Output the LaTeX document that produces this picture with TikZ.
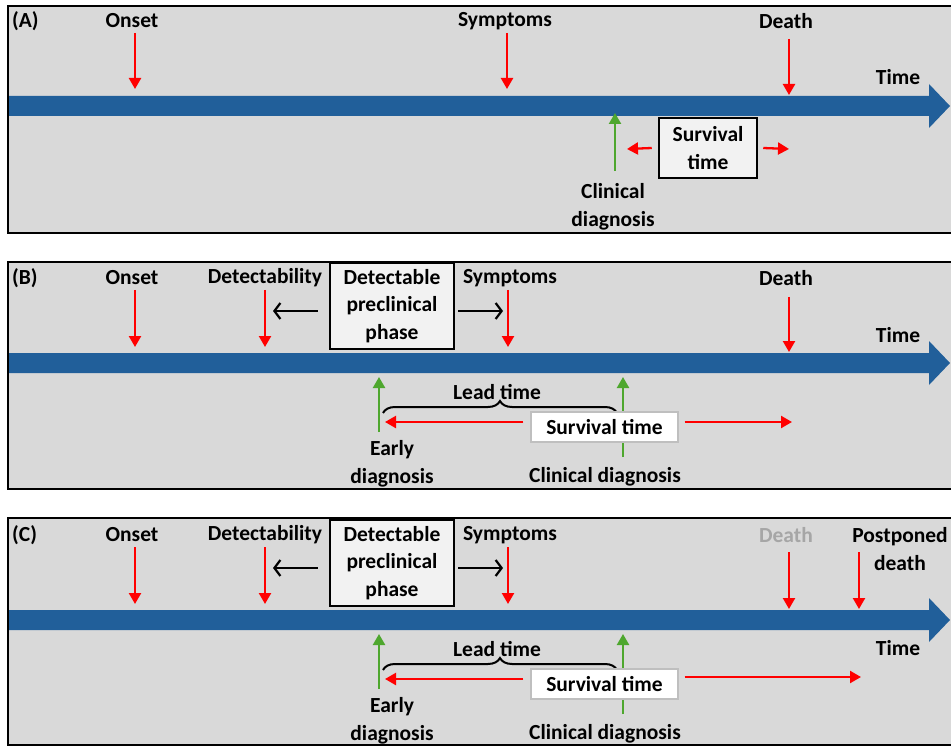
\documentclass[tikz,border=0pt]{standalone}
\usepackage{fontspec}
\setmainfont{Carlito}
\usetikzlibrary{arrows.meta,decorations.pathreplacing}
\definecolor{panelgray}{HTML}{D9D9D9}
\definecolor{barblue}{HTML}{215F9A}
\definecolor{arrred}{HTML}{FF0000}
\definecolor{arrgreen}{HTML}{4EA72E}
\definecolor{boxfill}{HTML}{F2F2F2}
\definecolor{fadegray}{HTML}{A6A6A6}
\definecolor{boxline}{HTML}{BFBFBF}
\tikzset{
  lbl/.style={font=\fontsize{21.5}{27.5}\selectfont\bfseries, inner sep=0pt, align=center},
  panel/.style={fill=panelgray, draw=black, line width=2.5pt},
  redarr/.style={draw=arrred, line width=2.3pt, -{Triangle[width=12pt,length=11pt]}},
  greenarr/.style={draw=arrgreen, line width=2.3pt, -{Triangle[width=12pt,length=11pt]}},
  blackarr/.style={draw=black, line width=2.2pt, -{Straight Barb[length=6pt,width=16pt,line width=2.2pt]}},
  darkbox/.style={lbl, fill=boxfill, draw=black, line width=2.5pt},
  lightbox/.style={lbl, fill=white, draw=boxline, line width=1.2pt},
  timebar/.style={fill=barblue},
  bracestyle/.style={draw=black, line width=2pt, decorate, decoration={brace, amplitude=12pt}}
}
\begin{document}
\begin{tikzpicture}[x=1pt,y=-1pt]
\useasboundingbox (0,0) rectangle (951,746);
\clip (0,0) rectangle (951,746);

% ---------------- Panel A ----------------
\path[panel] (8,6) rectangle (965,233);
\fill[timebar] (9,96) -- (929,96) -- (929,84) -- (950,106) -- (929,128) -- (929,116) -- (9,116) -- cycle;
\node[lbl, anchor=west] (labA) at (12,21) {(A)};
\node[lbl] (onsetA) at (132,21) {Onset};
\node[lbl] (sympA) at (505,21) {Symptoms};
\node[lbl] (deathA) at (786,21) {Death};
\node[lbl] (timeA) at (898,77) {Time};
\node[lbl] (clinA) at (613,207) {Clinical\\diagnosis};
\node[darkbox, minimum width=98pt, minimum height=60pt] (survA) at (708,148) {Survival\\time};
\coordinate (onsetAs) at (135,33); \coordinate (onsetAe) at (135,89);
\coordinate (sympAs) at (507,33); \coordinate (sympAe) at (507,89);
\coordinate (deathAs) at (789,39); \coordinate (deathAe) at (789,95);
\coordinate (clinAs) at (615,171); \coordinate (clinAe) at (615,113);
\coordinate (survAl) at (627,149); \coordinate (survAr) at (789,149);
\draw[redarr] (onsetAs) -- (onsetAe);
\draw[redarr] (sympAs) -- (sympAe);
\draw[redarr] (deathAs) -- (deathAe);
\draw[greenarr] (clinAs) -- (clinAe);
\draw[redarr] ([xshift=-6pt]survA.west) -- (survAl);
\draw[redarr] ([xshift=5pt]survA.east) -- (survAr);

% ---------------- Panel B ----------------
\path[panel] (8,262) rectangle (965,489);
\fill[timebar] (9,353) -- (929,353) -- (929,341) -- (950,363) -- (929,385) -- (929,373) -- (9,373) -- cycle;
\node[lbl, anchor=west] (labB) at (12,278) {(B)};
\node[lbl] (onsetB) at (132,278) {Onset};
\node[lbl] (detB) at (265,278) {Detectability};
\node[darkbox, minimum width=124pt, minimum height=86pt] (phaseB) at (392,306) {Detectable\\preclinical\\phase};
\node[lbl] (sympB) at (510,278) {Symptoms};
\node[lbl] (deathB) at (786,278) {Death};
\node[lbl] (timeB) at (898,335) {Time};
\node[lbl] (leadB) at (497,392) {Lead time};
\node[lbl] (earlyB) at (392,464) {Early\\diagnosis};
\node[lbl] (clinB) at (605,477) {Clinical diagnosis};
\coordinate (onsetBs) at (135,290); \coordinate (onsetBe) at (135,347);
\coordinate (detBs) at (265,290); \coordinate (detBe) at (265,347);
\coordinate (sympBs) at (508,290); \coordinate (sympBe) at (508,347);
\coordinate (deathBs) at (789,297); \coordinate (deathBe) at (789,352);
\coordinate (detArrB) at (273,311); \coordinate (sympArrB) at (503,311);
\coordinate (earlyBs) at (379,432); \coordinate (earlyBe) at (379,377);
\coordinate (clinBs) at (623,457); \coordinate (clinBe) at (623,377);
\coordinate (braceBl) at (383,413); \coordinate (braceBr) at (617,413);
\coordinate (survBl) at (385,422); \coordinate (survBr) at (792,422);
\draw[redarr] (onsetBs) -- (onsetBe);
\draw[redarr] (detBs) -- (detBe);
\draw[redarr] (sympBs) -- (sympBe);
\draw[redarr] (deathBs) -- (deathBe);
\draw[blackarr] ([xshift=-11pt]phaseB.west |- detArrB) -- (detArrB);
\draw[blackarr] ([xshift=3pt]phaseB.east |- sympArrB) -- (sympArrB);
\draw[greenarr] (earlyBs) -- (earlyBe);
\draw[greenarr] (clinBs) -- (clinBe);
\draw[bracestyle] (braceBl) -- (braceBr);
\node[lightbox, minimum width=147pt, minimum height=30pt] (survB) at (604.5,427) {Survival time};
\draw[redarr] ([xshift=-7pt]survB.west |- survBl) -- (survBl);
\draw[redarr] ([xshift=6pt]survB.east |- survBr) -- (survBr);

% ---------------- Panel C ----------------
\path[panel] (8,518) rectangle (965,745);
\fill[timebar] (9,610) -- (929,610) -- (929,598) -- (950,620) -- (929,642) -- (929,630) -- (9,630) -- cycle;
\node[lbl, anchor=west] (labC) at (12,535) {(C)};
\node[lbl] (onsetC) at (132,535) {Onset};
\node[lbl] (detC) at (265,535) {Detectability};
\node[darkbox, minimum width=124pt, minimum height=86pt] (phaseC) at (392,563) {Detectable\\preclinical\\phase};
\node[lbl] (sympC) at (510,535) {Symptoms};
\node[lbl, text=fadegray] (deathC) at (786,535) {Death};
\node[lbl] (postC) at (900,549) {Postponed\\death};
\node[lbl] (timeC) at (898,648) {Time};
\node[lbl] (leadC) at (497,649) {Lead time};
\node[lbl] (earlyC) at (392,721) {Early\\diagnosis};
\node[lbl] (clinC) at (605,734) {Clinical diagnosis};
\coordinate (onsetCs) at (135,547); \coordinate (onsetCe) at (135,604);
\coordinate (detCs) at (265,547); \coordinate (detCe) at (265,604);
\coordinate (sympCs) at (508,547); \coordinate (sympCe) at (508,604);
\coordinate (deathCs) at (789,552); \coordinate (deathCe) at (789,609);
\coordinate (postCs) at (859,552); \coordinate (postCe) at (859,609);
\coordinate (detArrC) at (273,568); \coordinate (sympArrC) at (503,568);
\coordinate (earlyCs) at (379,689); \coordinate (earlyCe) at (379,634);
\coordinate (clinCs) at (623,714); \coordinate (clinCe) at (623,634);
\coordinate (braceCl) at (383,670); \coordinate (braceCr) at (617,670);
\coordinate (survCl) at (385,679); \coordinate (survCr) at (861,677);
\draw[redarr] (onsetCs) -- (onsetCe);
\draw[redarr] (detCs) -- (detCe);
\draw[redarr] (sympCs) -- (sympCe);
\draw[redarr] (deathCs) -- (deathCe);
\draw[redarr] (postCs) -- (postCe);
\draw[blackarr] ([xshift=-11pt]phaseC.west |- detArrC) -- (detArrC);
\draw[blackarr] ([xshift=3pt]phaseC.east |- sympArrC) -- (sympArrC);
\draw[greenarr] (earlyCs) -- (earlyCe);
\draw[greenarr] (clinCs) -- (clinCe);
\draw[bracestyle] (braceCl) -- (braceCr);
\node[lightbox, minimum width=147pt, minimum height=30pt] (survC) at (604.5,684) {Survival time};
\draw[redarr] ([xshift=-7pt]survC.west |- survCl) -- (survCl);
\draw[redarr] ([xshift=6pt]survC.east |- survCr) -- (survCr);
\end{tikzpicture}
\end{document}
